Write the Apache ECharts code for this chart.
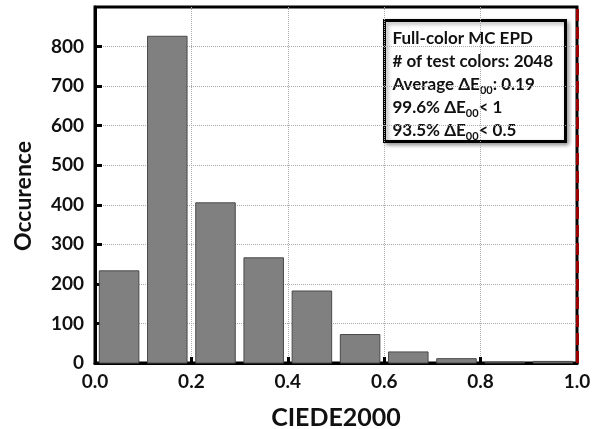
<!DOCTYPE html>
<html>
<head>
<meta charset="utf-8">
<script src="https://cdn.jsdelivr.net/npm/echarts@6/dist/echarts.min.js"></script>
<style>
html, body { margin: 0; padding: 0; background: #fff; }
#chart { width: 605px; height: 429px; }
</style>
</head>
<body>
<div id="chart"></div>
<script>
// histogram bins (start of each 0.1 wide bin) and counts
var binStarts = [0.0, 0.1, 0.2, 0.3, 0.4, 0.5, 0.6, 0.7, 0.8, 0.9];
var counts = [233, 826, 405, 266, 182, 72, 28, 11, 2, 4];
var binWidth = 0.1;
var infoLines = [
    '{t|Full-color MC EPD}',
    '{t|# of test colors: 2048}',
    '{t|Average ΔE}{s|00}{t|: 0.19}',
    '{t|99.6% ΔE}{s|00}{t|< 1}',
    '{t|93.5% ΔE}{s|00}{t|< 0.5}'
];

var font = 'Lato, "Open Sans", sans-serif';

var histData = binStarts.map(function (b, i) { return [b, b + binWidth, counts[i]]; });

var infoTexts = infoLines.map(function (line, i) {
    return {
        type: 'text',
        x: 8, y: 18 + i * 23,
        style: {
            text: line,
            verticalAlign: 'middle',
            rich: {
                t: { fontFamily: font, fontWeight: 'bold', fontSize: 17, fill: '#111', lineHeight: 22, verticalAlign: 'middle' },
                s: { fontFamily: font, fontWeight: 'bold', fontSize: 11, fill: '#111', lineHeight: 12, verticalAlign: 'bottom' }
            }
        }
    };
});

var option = {
    animation: false,
    grid: {
        left: 95, right: 28, top: 7, bottom: 66,
        outerBoundsMode: 'none',
        show: true,
        borderColor: '#000',
        borderWidth: 3
    },
    xAxis: {
        type: 'value',
        min: 0, max: 1, interval: 0.2,
        name: 'CIEDE2000',
        nameLocation: 'middle',
        nameGap: 42,
        nameTextStyle: { fontFamily: font, fontWeight: 'bold', fontSize: 25, color: '#111' },
        axisLine: { show: true, lineStyle: { color: '#000', width: 3 } },
        axisTick: { show: true, inside: true, length: 6, lineStyle: { color: '#000', width: 3 } },
        axisLabel: {
            fontFamily: font, fontWeight: 'bold', fontSize: 19, color: '#111', margin: 9,
            formatter: function (v) { return v.toFixed(1); }
        },
        splitLine: { show: true, showMinLine: false, showMaxLine: false, lineStyle: { color: '#aaa', type: 'dotted', width: 1 } }
    },
    yAxis: {
        type: 'value',
        min: 0, max: 900, interval: 100,
        name: 'Occurence',
        nameLocation: 'middle',
        nameGap: 60,
        nameRotate: 90,
        nameTextStyle: { fontFamily: font, fontWeight: 'bold', fontSize: 23, color: '#111', padding: [0, 22, 0, 0] },
        axisLine: { show: true, lineStyle: { color: '#000', width: 3 } },
        axisTick: { show: true, inside: true, length: 7, lineStyle: { color: '#000', width: 3 } },
        axisLabel: {
            fontFamily: font, fontWeight: 'bold', fontSize: 19, color: '#111', margin: 11,
            showMaxLabel: false
        },
        splitLine: { show: true, showMinLine: false, showMaxLine: false, lineStyle: { color: '#aaa', type: 'dotted', width: 1 } }
    },
    series: [
        {
            type: 'custom',
            data: histData,
            encode: { x: [0, 1], y: 2 },
            renderItem: function (params, api) {
                var p0 = api.coord([api.value(0), 0]);
                var p1 = api.coord([api.value(1), api.value(2)]);
                var w = p1[0] - p0[0];
                var gap = w * 0.09;
                return {
                    type: 'rect',
                    shape: { x: p0[0] + gap, y: p1[1], width: w - 2 * gap, height: p0[1] - p1[1] },
                    style: { fill: '#808080', stroke: '#4a4a4a', lineWidth: 1 }
                };
            },
            markLine: {
                silent: true,
                symbol: 'none',
                label: { show: false },
                lineStyle: { color: '#9b0000', type: 'dashed', width: 3 },
                data: [{ xAxis: 1 }]
            }
        }
    ],
    graphic: [
        {
            type: 'group',
            left: 383, top: 19,
            children: [
                {
                    type: 'rect',
                    shape: { x: 0, y: 0, width: 181, height: 121 },
                    style: {
                        fill: '#fff', stroke: '#000', lineWidth: 3,
                        shadowBlur: 4, shadowColor: 'rgba(0,0,0,0.35)', shadowOffsetX: 2, shadowOffsetY: 2
                    }
                }
            ].concat(infoTexts)
        }
    ]
};

var chart = echarts.init(document.getElementById('chart'));
chart.setOption(option);
window.onresize = chart.resize;
</script>
</body>
</html>
